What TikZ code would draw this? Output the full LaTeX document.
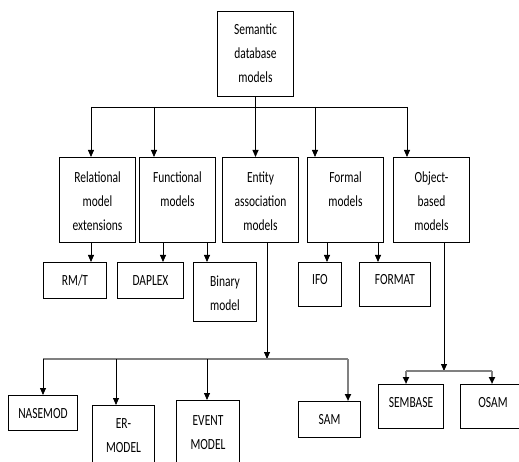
\documentclass[tikz,border=0pt]{standalone}
\usepackage{fontspec}
\setmainfont{Carlito}[FakeStretch=0.74]
\usetikzlibrary{arrows.meta}
\newcommand{\cellbox}[4]% pad, width, height, text
{\parbox[t][#3pt][t]{#2pt}{\centering\rule{0pt}{#1pt}#4}
}
\tikzset{
  box/.style={draw, anchor=north west, inner sep=0pt, line width=1pt},
  link/.style={line width=0.8pt},
  arr/.style={link, -{Triangle[length=7pt,width=6pt,color=black]}},
  bus/.style={line width=2.2pt, draw=black!50},
}

\begin{document}
\begin{tikzpicture}[x=1pt, y=-1pt, font=\fontsize{15.5}{24}\selectfont]
  \clip (0,0) rectangle (519,462);
  % root and first level
  \node[box] (sem) at (217,11) {\cellbox{23}{76}{85}{Semantic\\database\\models}};
  \node[box] (rel) at (59,157) {\cellbox{25}{76}{85}{Relational\\model\\extensions}};
  \node[box] (fun) at (139,157) {\cellbox{25}{76}{85}{Functional\\models}};
  \node[box] (ent) at (222,157) {\cellbox{25}{76}{85}{Entity\\association\\models}};
  \node[box] (frm) at (307,157) {\cellbox{25}{76}{85}{Formal\\models}};
  \node[box] (obj) at (393,157) {\cellbox{25}{76}{85}{Object-\\based\\models}};
  % second level
  \node[box] (rmt) at (43,262) {\cellbox{23}{63}{36}{RM/T}};
  \node[box] (daplex) at (117,262) {\cellbox{23}{66}{36}{DAPLEX}};
  \node[box] (binary) at (193,262) {\cellbox{24}{63}{59}{Binary\\model}};
  \node[box] (ifo) at (298,262) {\cellbox{22}{43}{44}{IFO}};
  \node[box] (format) at (359,262) {\cellbox{22}{71}{44}{FORMAT}};
  % bottom row
  \node[box] (nasemod) at (8,395) {\cellbox{23}{69}{35}{NASEMOD}};
  \node[box] (ermodel) at (92,405) {\cellbox{23}{62}{70}{ER-\\MODEL}};
  \node[box] (event) at (176,400) {\cellbox{25}{63}{75}{EVENT\\MODEL}};
  \node[box] (sam) at (298,401) {\cellbox{23}{62}{36}{SAM}};
  \node[box] (sembase) at (378,384) {\cellbox{23}{65}{44}{SEMBASE}};
  \node[box] (osam) at (460,384) {\cellbox{23}{65}{44}{OSAM}};

  % top bus
  \coordinate (bl) at (91,107);
  \coordinate (br) at (407,107);
  \draw[link] (bl) -- (br);
  \draw[arr] (sem.south) -- (sem.south |- ent.north);
  \foreach \x/\n in {91/rel,154/fun,315/frm,407/obj}{
    \coordinate (t-\n) at (\x,107);
    \draw[arr] (t-\n) -- (t-\n |- \n.north);
  }
  % first level to second level
  \foreach \x/\a/\b in {91/rel/rmt,163/fun/daplex,207/fun/binary,327/frm/ifo,378/frm/format}{
    \coordinate (c-\b) at (\a.south -| \x,0);
    \draw[arr] (c-\b) -- (c-\b |- \b.north);
  }
  % entity association bus
  \coordinate (ejoin) at (267,359);
  \draw[arr] (ejoin |- ent.south) -- (ejoin);
  \draw[bus] (43,359) coordinate (e1) -- (348,359) coordinate (e2);
  \foreach \x/\b in {43/nasemod,116/ermodel,207/event}{
    \coordinate (e-\b) at (\x,359);
    \draw[arr] (e-\b) -- (e-\b |- \b.north);
  }
  \draw[arr, bus] (e2) -- (e2 |- sam.north);
  % object based bus
  \coordinate (ojoin) at (444,371);
  \draw[arr] (ojoin |- obj.south) -- (ojoin);
  \draw[bus] (406,371) coordinate (o1) -- (492,371) coordinate (o2);
  \draw[arr, bus] (o1) -- (o1 |- sembase.north);
  \draw[arr, bus] (o2) -- (o2 |- osam.north);
\end{tikzpicture}
\end{document}
